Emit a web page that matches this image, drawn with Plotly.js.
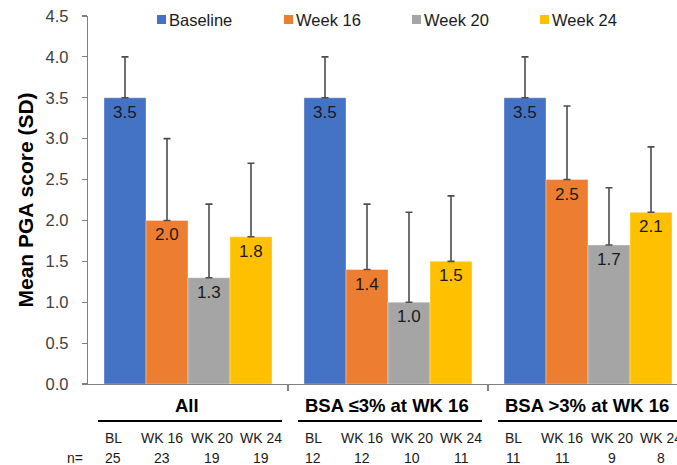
<!DOCTYPE html>
<html>
<head>
<meta charset="utf-8">
<script src="https://cdn.plot.ly/plotly-3.0.1.min.js"></script>
<style>
  html, body { margin: 0; padding: 0; background: #fff; }
  #chart { width: 677px; height: 465px; }
</style>
</head>
<body>
<div id="chart"></div>
<script>
// Subgroups along the x axis
const groups = ['All', 'BSA \u22643% at WK 16', 'BSA >3% at WK 16'];

// Visits (one bar per visit inside each subgroup)
const seriesNames = ['Baseline', 'Week 16', 'Week 20', 'Week 24'];
const seriesColors = ['#4472C4', '#ED7D31', '#A5A5A5', '#FFC000'];

// Mean PGA score per subgroup
const baselineMean = [3.5, 3.5, 3.5];
const week16Mean   = [2.0, 1.4, 2.5];
const week20Mean   = [1.3, 1.0, 1.7];
const week24Mean   = [1.8, 1.5, 2.1];

// Standard deviation per subgroup (upper error bar)
const baselineSD = [0.5, 0.5, 0.5];
const week16SD   = [1.0, 0.8, 0.9];
const week20SD   = [0.9, 1.1, 0.7];
const week24SD   = [0.9, 0.8, 0.8];

// Table under the axis
const visitLabels = ['BL', 'WK 16', 'WK 20', 'WK 24'];
const nAll     = [25, 23, 19, 19];
const nBsaLow  = [12, 12, 10, 11];
const nBsaHigh = [11, 11, 9, 8];

const means = [baselineMean, week16Mean, week20Mean, week24Mean];
const sds = [baselineSD, week16SD, week20SD, week24SD];
const nRows = [nAll, nBsaLow, nBsaHigh];

const W = 677, H = 465;
const M = { l: 88, r: 0, t: 16, b: 81 };
const plotW = W - M.l - M.r, plotH = H - M.t - M.b;
const px = x => (x - M.l) / plotW;        // pixel -> paper x
const py = y => (H - M.b - y) / plotH;    // pixel -> paper y

const FONT = 'Liberation Sans, Arial, sans-serif';
const BARGAP = 0.16;
const barW = (1 - BARGAP) / seriesNames.length;
const groupX = groups.map((g, i) => i);

const traces = seriesNames.map((name, s) => ({
  type: 'bar',
  name: name,
  x: groupX,
  y: means[s],
  marker: { color: seriesColors[s], line: { color: 'rgba(255,255,255,0.6)', width: 0.6 } },
  error_y: {
    type: 'data', symmetric: false,
    array: sds[s], arrayminus: sds[s].map(() => 0),
    color: '#4d4d4d', thickness: 1.6, width: 3.5
  },
  hoverinfo: 'skip'
}));

const annotations = [];
const shapes = [];

// Value labels just inside the top of each bar
seriesNames.forEach((name, s) => {
  means[s].forEach((v, i) => {
    annotations.push({
      xref: 'x', yref: 'y',
      x: i + (s - (seriesNames.length - 1) / 2) * barW, y: v,
      xanchor: 'center', yanchor: 'top', yshift: -3,
      showarrow: false, text: v.toFixed(1),
      font: { family: FONT, size: 17, color: '#1a1a1a' }
    });
  });
});

// Legend drawn as swatch + label
const legendLeft = [157, 284, 412, 540];
seriesNames.forEach((name, s) => {
  shapes.push({
    type: 'rect', xref: 'paper', yref: 'paper',
    x0: px(legendLeft[s]), x1: px(legendLeft[s] + 9),
    y0: py(24), y1: py(15),
    fillcolor: seriesColors[s], line: { width: 0 }
  });
  annotations.push({
    xref: 'paper', yref: 'paper',
    x: px(legendLeft[s] + 10), y: py(19.5),
    xanchor: 'left', yanchor: 'middle', showarrow: false,
    text: name, font: { family: FONT, size: 16.5, color: '#1a1a1a' }
  });
});

// Subgroup headings, underlines and the visit / n table
const visitOffsets = [0.125, 0.372, 0.62, 0.865];
groups.forEach((g, i) => {
  annotations.push({
    xref: 'x', yref: 'paper', x: i - 0.005, y: py(405),
    xanchor: 'center', yanchor: 'middle', showarrow: false,
    text: '<b>' + g + '</b>', font: { family: FONT, size: 18.5, color: '#000' }
  });
  shapes.push({
    type: 'line', xref: 'x', yref: 'paper',
    x0: i - 0.45, x1: i + 0.47, y0: py(421), y1: py(421),
    line: { color: '#000', width: 2.2 }
  });
  visitLabels.forEach((v, k) => {
    const xv = i - 0.5 + visitOffsets[k];
    annotations.push({
      xref: 'x', yref: 'paper', x: xv, y: py(438),
      xanchor: 'center', yanchor: 'middle', showarrow: false,
      text: v, font: { family: FONT, size: 14, color: '#1a1a1a' }
    });
    annotations.push({
      xref: 'x', yref: 'paper', x: xv, y: py(457.5),
      xanchor: 'center', yanchor: 'middle', showarrow: false,
      text: String(nRows[i][k]), font: { family: FONT, size: 14, color: '#1a1a1a' }
    });
  });
});
annotations.push({
  xref: 'paper', yref: 'paper', x: px(75), y: py(457.5),
  xanchor: 'center', yanchor: 'middle', showarrow: false,
  text: 'n=', font: { family: FONT, size: 14, color: '#1a1a1a' }
});

const layout = {
  width: W, height: H,
  margin: M,
  paper_bgcolor: '#fff', plot_bgcolor: '#fff',
  showlegend: false,
  barmode: 'group',
  bargap: BARGAP,
  bargroupgap: 0,
  font: { family: FONT, color: '#404040' },
  xaxis: {
    range: [-0.5, 2.445],
    tickmode: 'array', tickvals: [0.5, 1.5],
    showticklabels: false,
    ticks: 'outside', ticklen: 6, tickwidth: 1.3, tickcolor: '#808080',
    showline: true, linecolor: '#808080', linewidth: 1.3,
    showgrid: false, zeroline: false, fixedrange: true
  },
  yaxis: {
    range: [0, 4.5],
    tickmode: 'linear', tick0: 0, dtick: 0.5, tickformat: '.1f',
    ticks: 'outside', ticklen: 5, tickwidth: 1.2, tickcolor: '#808080',
    ticklabelstandoff: 10,
    showline: true, linecolor: '#808080', linewidth: 1.2,
    showgrid: false, zeroline: false, fixedrange: true,
    tickfont: { family: FONT, size: 16.5, color: '#404040' },
    title: {
      text: '<b>Mean PGA score (SD)</b>',
      font: { family: FONT, size: 21, color: '#000' },
      standoff: 6
    }
  },
  annotations: annotations,
  shapes: shapes
};

Plotly.newPlot('chart', traces, layout, { displayModeBar: false, staticPlot: true });
</script>
</body>
</html>
